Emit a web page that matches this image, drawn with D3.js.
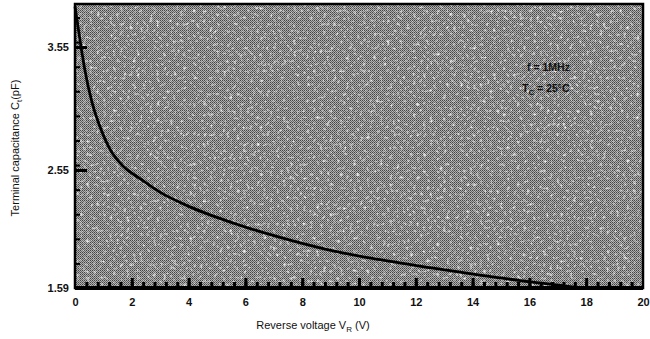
<!DOCTYPE html>
<html>
<head>
<meta charset="utf-8">
<script src="https://cdn.jsdelivr.net/npm/d3@7/dist/d3.min.js"></script>
<style>
  html, body { margin: 0; padding: 0; background: #fff; }
  svg { display: block; }
  text { font-family: "Liberation Sans", Arial, sans-serif; fill: #111; }
</style>
</head>
<body>
<svg id="chart" width="650" height="339"></svg>
<script>
// Terminal capacitance vs reverse voltage (f = 1 MHz, Tc = 25 °C)
const voltage     = [0, 0.18, 0.35, 0.6, 0.95, 1.23, 1.7, 2.29, 2.99, 4.05, 5.81, 7.57, 9.33, 10.74, 12.5, 14.26, 16.02, 17.18, 17.9, 20];
const capacitance = [3.88, 3.60, 3.36, 3.10, 2.86, 2.72, 2.58, 2.48, 2.37, 2.25, 2.10, 1.98, 1.88, 1.82, 1.755, 1.695, 1.64, 1.61, 1.59, 1.59];

const xTickValues = [0, 2, 4, 6, 8, 10, 12, 14, 16, 18, 20];
const yTickValues = [1.59, 2.55, 3.55];
const yTickLabels = ["1.59", "2.55", "3.55"];
const notes = ["f = 1MHz", "T", "= 25°C"];

const svg = d3.select("#chart");
const plot = { left: 75, right: 643, top: 4, bottom: 288 };

const x = d3.scaleLinear().domain([0, 20]).range([plot.left, plot.right]);
const y = d3.scaleLinear().domain([1.59, 3.9]).range([plot.bottom, plot.top]);

// halftone screen used for the plot background
const defs = svg.append("defs");
const pat = defs.append("pattern")
  .attr("id", "screen").attr("patternUnits", "userSpaceOnUse")
  .attr("width", 2).attr("height", 2);
pat.append("rect").attr("width", 2).attr("height", 2).attr("fill", "#b0b0b0");
pat.append("rect").attr("x", 0).attr("y", 0).attr("width", 1).attr("height", 1).attr("fill", "#444");
pat.append("rect").attr("x", 1).attr("y", 1).attr("width", 1).attr("height", 1).attr("fill", "#666");

const speck = defs.append("filter").attr("id", "speck")
  .attr("x", 0).attr("y", 0).attr("width", 1).attr("height", 1);
speck.append("feTurbulence").attr("type", "fractalNoise")
  .attr("baseFrequency", "0.3 0.3").attr("numOctaves", 2).attr("seed", 7).attr("result", "n");
speck.append("feColorMatrix").attr("type", "matrix")
  .attr("values", "0 0 0 0 1  0 0 0 0 1  0 0 0 0 1  3.4 0 0 0 -1.9")
  .attr("in", "n");

svg.append("rect")
  .attr("x", plot.left).attr("y", plot.top)
  .attr("width", plot.right - plot.left).attr("height", plot.bottom - plot.top)
  .attr("fill", "url(#screen)");
svg.append("rect")
  .attr("x", plot.left).attr("y", plot.top)
  .attr("width", plot.right - plot.left).attr("height", plot.bottom - plot.top)
  .attr("fill", "#fff")
  .attr("filter", "url(#speck)")
  .attr("opacity", 0.85);

// inner tick marks on the left edge
const yMinor = d3.range(1.79, 3.9, 0.2);
svg.append("g").attr("transform", `translate(${plot.left},0)`)
  .call(d3.axisRight(y).tickValues(yMinor).tickSize(5).tickFormat(""))
  .call(g => g.select(".domain").remove())
  .call(g => g.selectAll("line").attr("stroke", "#000").attr("stroke-width", 2));
svg.append("g").attr("transform", `translate(${plot.left},0)`)
  .call(d3.axisRight(y).tickValues([2.55, 3.55]).tickSize(12).tickFormat(""))
  .call(g => g.select(".domain").remove())
  .call(g => g.selectAll("line").attr("stroke", "#000").attr("stroke-width", 3));

// inner tick marks on the bottom edge
const xMinor = d3.range(0.4, 20, 0.4);
svg.append("g").attr("transform", `translate(0,${plot.bottom})`)
  .call(d3.axisTop(x).tickValues(xMinor).tickSize(6).tickFormat(""))
  .call(g => g.select(".domain").remove())
  .call(g => g.selectAll("line").attr("stroke", "#000").attr("stroke-width", 3));
svg.append("g").attr("transform", `translate(0,${plot.bottom})`)
  .call(d3.axisTop(x).tickValues([2, 4, 6, 8, 10, 12, 14, 16, 18]).tickSize(10).tickFormat(""))
  .call(g => g.select(".domain").remove())
  .call(g => g.selectAll("line").attr("stroke", "#000").attr("stroke-width", 3));

// frame
svg.append("rect")
  .attr("x", plot.left).attr("y", plot.top)
  .attr("width", plot.right - plot.left).attr("height", plot.bottom - plot.top)
  .attr("fill", "none").attr("stroke", "#000").attr("stroke-width", 2.5);
svg.append("line")
  .attr("x1", plot.left).attr("x2", plot.right)
  .attr("y1", plot.bottom).attr("y2", plot.bottom)
  .attr("stroke", "#000").attr("stroke-width", 4);

// tick labels
const xAxis = svg.append("g").attr("transform", `translate(0,${plot.bottom})`)
  .call(d3.axisBottom(x).tickValues(xTickValues).tickSize(0).tickPadding(10).tickFormat(d3.format("d")));
xAxis.select(".domain").remove();
xAxis.selectAll("text").attr("font-size", 11).attr("font-weight", "bold")
  .style("font-family", "'Liberation Sans', Arial, sans-serif").attr("fill", "#111");

const yAxis = svg.append("g").attr("transform", `translate(${plot.left},0)`)
  .call(d3.axisLeft(y).tickValues(yTickValues).tickSize(0).tickPadding(6)
    .tickFormat((d, i) => yTickLabels[i]));
yAxis.select(".domain").remove();
yAxis.selectAll("text").attr("font-size", 11).attr("font-weight", "bold")
  .style("font-family", "'Liberation Sans', Arial, sans-serif").attr("fill", "#111");

// curve
const line = d3.line().x((d, i) => x(voltage[i])).y(d => y(d)).curve(d3.curveMonotoneX);
svg.append("path")
  .datum(capacitance)
  .attr("d", line)
  .attr("fill", "none").attr("stroke", "#000").attr("stroke-width", 2.8)
  .attr("stroke-linejoin", "round");

// axis titles
const xt = svg.append("text").attr("x", 313).attr("y", 329)
  .attr("text-anchor", "middle").attr("font-size", 11);
xt.append("tspan").text("Reverse voltage V");
xt.append("tspan").attr("font-size", 8).attr("dy", 3).text("R");
xt.append("tspan").attr("dy", -3).text(" (V)");

const yt = svg.append("text")
  .attr("transform", "translate(19,148) rotate(-90)")
  .attr("text-anchor", "middle").attr("font-size", 11);
yt.append("tspan").text("Terminal capacitance C");
yt.append("tspan").attr("font-size", 8).attr("dy", 3).text("t");
yt.append("tspan").attr("dy", -3).text("(pF)");

// test conditions
svg.append("text").attr("x", 527).attr("y", 71)
  .attr("font-size", 10.5).attr("font-weight", "bold").text(notes[0]);
const tc = svg.append("text").attr("x", 522).attr("y", 92)
  .attr("font-size", 10.5).attr("font-weight", "bold");
tc.append("tspan").text(notes[1]);
tc.append("tspan").attr("font-size", 8).attr("dy", 3).text("C");
tc.append("tspan").attr("dy", -3).text(" " + notes[2]);
</script>
</body>
</html>
